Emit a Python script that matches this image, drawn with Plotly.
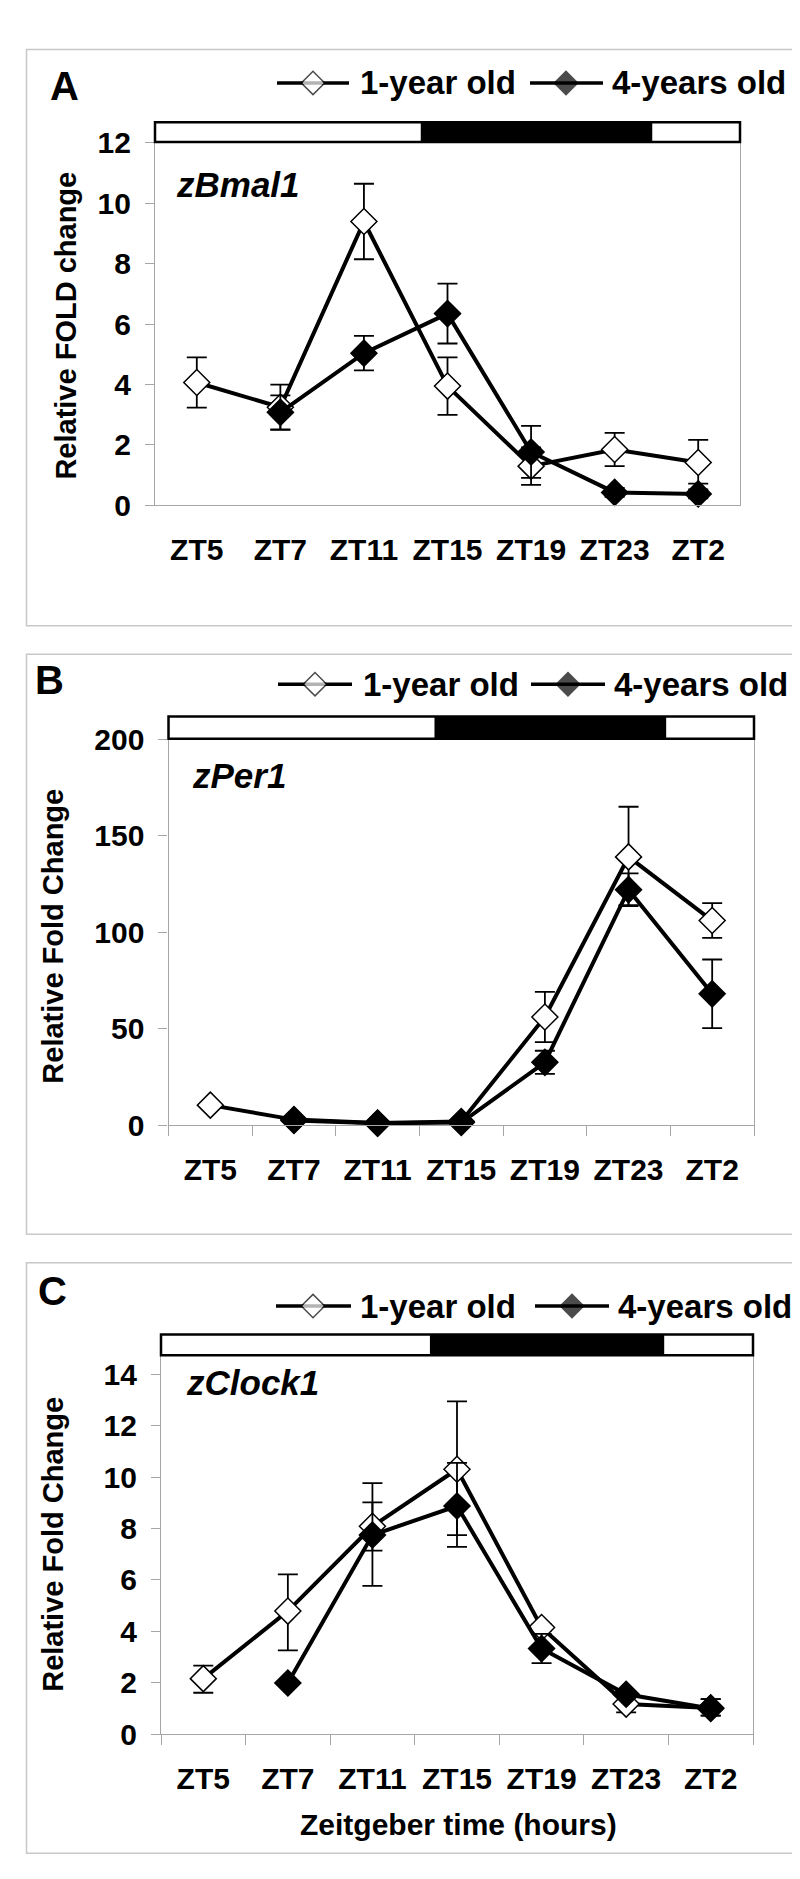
import plotly.graph_objects as go

# ---------------- data ----------------
categories = ["ZT5", "ZT7", "ZT11", "ZT15", "ZT19", "ZT23", "ZT2"]
series_names = ["1-year old", "4-years old"]

# Panel A  zBmal1
bmal_1y = [4.07, 3.25, 9.4, 3.95, 1.3, 1.85, 1.42]
bmal_1y_plus = [0.83, 0.75, 1.25, 0.95, 0.62, 0.55, 0.75]
bmal_1y_minus = [0.83, 0.75, 1.25, 0.95, 0.62, 0.55, 0.70]
bmal_4y = [None, 3.08, 5.04, 6.35, 1.77, 0.43, 0.38]
bmal_4y_plus = [0, 0.56, 0.57, 0.99, 0.86, 0.15, 0.15]
bmal_4y_minus = [0, 0.56, 0.57, 0.99, 0.86, 0.15, 0.15]

# Panel B  zPer1
per_1y = [10.3, 2.8, 1.0, 1.8, 56, 139, 106]
per_1y_plus = [0, 0, 0, 0, 13, 26, 9]
per_1y_minus = [0, 0, 0, 0, 13, 25, 9]
per_4y = [None, 2.4, 0.9, 1.3, 32.5, 122, 68]
per_4y_plus = [0, 0, 0, 0, 6, 8.5, 17.8]
per_4y_minus = [0, 0, 0, 0, 6, 8.5, 17.8]

# Panel C  zClock1
clock_1y = [2.16, 4.79, 8.09, 10.31, 4.15, 1.17, 1.02]
clock_1y_plus = [0.51, 1.43, 1.68, 2.64, 0.13, 0.10, 0.34]
clock_1y_minus = [0.55, 1.53, 2.32, 3.02, 0.13, 0.32, 0.30]
clock_4y = [None, 1.99, 7.75, 8.88, 3.33, 1.55, 1.0]
clock_4y_plus = [0, 0, 1.27, 1.68, 0.57, 0.10, 0.36]
clock_4y_minus = [0, 0, 0.61, 1.13, 0.57, 0.10, 0.28]

# dark phase (in category index units)
dark_start = 2.68
dark_end = 5.45

W, H = 800, 1879
FONT = "Liberation Sans, Arial, sans-serif"


def fx(p):
    return p / W


def fy(p):
    return 1 - p / H


panels = [
    dict(letter="A", gene="zBmal1", ytitle="Relative FOLD change",
         y1=bmal_1y, p1=bmal_1y_plus, m1=bmal_1y_minus,
         y4=bmal_4y, p4=bmal_4y_plus, m4=bmal_4y_minus,
         yrange=[0, 12.1], dtick=2, bins=False,
         box=(18.5, 26, 786, 612.5), plot=(147, 118, 732, 490),
         bar=(100, 120), letter_pos=(57, 63), legend_y=60,
         leg=((269, 341, 305, 350), (522, 595, 558, 602)),
         gene_pos=(166, 163), ytitle_pos=(58, 307)),
    dict(letter="B", gene="zPer1", ytitle="Relative Fold Change",
         y1=per_1y, p1=per_1y_plus, m1=per_1y_minus,
         y4=per_4y, p4=per_4y_plus, m4=per_4y_minus,
         yrange=[0, 200], dtick=50, bins=True,
         box=(18.5, 641.5, 788, 1232), plot=(160.5, 728, 746, 1120.7),
         bar=(705, 727.5), letter_pos=(41, 668), legend_y=672,
         leg=((270, 344, 307, 353), (523, 597, 560, 604)),
         gene_pos=(182, 765), ytitle_pos=(45, 929)),
    dict(letter="C", gene="zClock1", ytitle="Relative Fold Change",
         y1=clock_1y, p1=clock_1y_plus, m1=clock_1y_minus,
         y4=clock_4y, p4=clock_4y_plus, m4=clock_4y_minus,
         yrange=[0, 14.75], dtick=2, bins=True,
         box=(18.5, 1261, 788, 1862), plot=(153, 1355, 745, 1740.7),
         bar=(1334, 1355), letter_pos=(44, 1290), legend_y=1305,
         leg=((268, 343, 305, 350), (527, 601, 564, 608)),
         gene_pos=(176, 1383), ytitle_pos=(45, 1548)),
]

fig = go.Figure()
shapes = []
annotations = []
GRAY = "#a6a6a6"

for i, p in enumerate(panels):
    n = "" if i == 0 else str(i + 1)
    xa, ya = "x" + n, "y" + n
    L, T, R, B = p["plot"]

    fig.update_layout(**{
        "xaxis" + n: dict(
            domain=[fx(L), fx(R)], anchor=ya, type="category",
            categoryorder="array", categoryarray=categories,
            range=[-0.5, 6.5], showline=True, linecolor=GRAY, linewidth=1.2,
            ticks="outside", tickson="boundaries", ticklen=10,
            tickcolor=GRAY if p["bins"] else "rgba(0,0,0,0)", tickwidth=1.2,
            ticklabelstandoff=18,
            tickfont=dict(family=FONT, size=30, color="black", weight="bold"),
            showgrid=False, zeroline=False, fixedrange=True),
        "yaxis" + n: dict(
            domain=[fy(B), fy(T)], anchor=xa, range=p["yrange"],
            tick0=0, dtick=p["dtick"], showline=True, linecolor=GRAY,
            linewidth=1.2, mirror=True, ticks="outside", ticklen=9,
            tickcolor=GRAY, tickwidth=1.2, ticklabelstandoff=8,
            tickfont=dict(family=FONT, size=30, color="black", weight="bold"),
            showgrid=False, zeroline=False, fixedrange=True),
    })

    for name, ys, pl, mi, fill in [
        (series_names[0], p["y1"], p["p1"], p["m1"], "white"),
        (series_names[1], p["y4"], p["p4"], p["m4"], "black"),
    ]:
        fig.add_trace(go.Scatter(
            x=categories, y=ys, name=name, xaxis=xa, yaxis=ya,
            mode="lines+markers", showlegend=False, cliponaxis=False,
            line=dict(color="black", width=4),
            marker=dict(symbol="diamond", size=20, color=fill,
                        line=dict(color="black", width=1.5)),
            error_y=dict(type="data", symmetric=False, array=pl,
                         arrayminus=mi, color="black", thickness=1.8,
                         width=10),
        ))

    # panel frame
    x0, y0, x1, y1 = p["box"]
    shapes.append(dict(type="rect", xref="paper", yref="paper",
                       x0=fx(x0), x1=fx(x1), y0=fy(y1), y1=fy(y0),
                       line=dict(color="#c8c8c8", width=1.5),
                       fillcolor="rgba(0,0,0,0)", layer="below"))
    # light/dark bar
    bt, bb = p["bar"]
    shapes.append(dict(type="rect", xref=xa + " domain", yref="paper",
                       x0=0, x1=1, y0=fy(bb), y1=fy(bt),
                       line=dict(color="black", width=2.5),
                       fillcolor="white", layer="above"))
    shapes.append(dict(type="rect", xref=xa + " domain", yref="paper",
                       x0=(dark_start + 0.5) / 7, x1=(dark_end + 0.5) / 7,
                       y0=fy(bb), y1=fy(bt),
                       line=dict(color="black", width=0),
                       fillcolor="black", layer="above"))

    # panel letter
    lx, ly = p["letter_pos"]
    annotations.append(dict(xref="paper", yref="paper", x=fx(lx), y=fy(ly),
                            text=p["letter"], showarrow=False,
                            xanchor="center", yanchor="middle",
                            font=dict(family=FONT, size=40, color="black",
                                      weight="bold")))
    # gene label
    gx, gy = p["gene_pos"]
    annotations.append(dict(xref="paper", yref="paper", x=fx(gx), y=fy(gy),
                            text=p["gene"], showarrow=False,
                            xanchor="left", yanchor="middle",
                            font=dict(family=FONT, size=35, color="black",
                                      weight="bold", style="italic")))
    # y title
    tx, ty = p["ytitle_pos"]
    annotations.append(dict(xref="paper", yref="paper", x=fx(tx), y=fy(ty),
                            text=p["ytitle"], showarrow=False, textangle=-90,
                            xanchor="center", yanchor="middle",
                            font=dict(family=FONT, size=29, color="black",
                                      weight="bold")))
    # legend
    ly_ = p["legend_y"]
    for (lx0, lx1, dx, tx0), fill, name in zip(p["leg"], ["white", "black"],
                                               series_names):
        fig.add_trace(go.Scatter(
            x=[lx0, dx, lx1], y=[ly_, ly_, ly_], xaxis="x4", yaxis="y4",
            mode="lines+markers", showlegend=False, hoverinfo="skip",
            cliponaxis=False,
            line=dict(color="black", width=3.5),
            marker=dict(symbol="diamond", size=[0, 18, 0], color=fill,
                        line=dict(color="black", width=1.5)),
        ))
        annotations.append(dict(xref="paper", yref="paper", x=fx(tx0),
                                y=fy(ly_), text=name, showarrow=False,
                                xanchor="left", yanchor="middle",
                                font=dict(family=FONT, size=33, color="black",
                                          weight="bold")))

# x title of last panel
annotations.append(dict(xref="paper", yref="paper", x=fx(450), y=fy(1833),
                        text="Zeitgeber time (hours)", showarrow=False,
                        xanchor="center", yanchor="middle",
                        font=dict(family=FONT, size=30, color="black",
                                  weight="bold")))

fig.update_layout(
    width=W, height=H,
    margin=dict(l=0, r=0, t=0, b=0),
    paper_bgcolor="white", plot_bgcolor="rgba(0,0,0,0)",
    showlegend=False,
    xaxis4=dict(domain=[0, 1], range=[0, W], visible=False, anchor="y4",
                fixedrange=True),
    yaxis4=dict(domain=[0, 1], range=[H, 0], visible=False, anchor="x4",
                fixedrange=True),
    shapes=shapes, annotations=annotations,
)

fig.write_html("out.html")
